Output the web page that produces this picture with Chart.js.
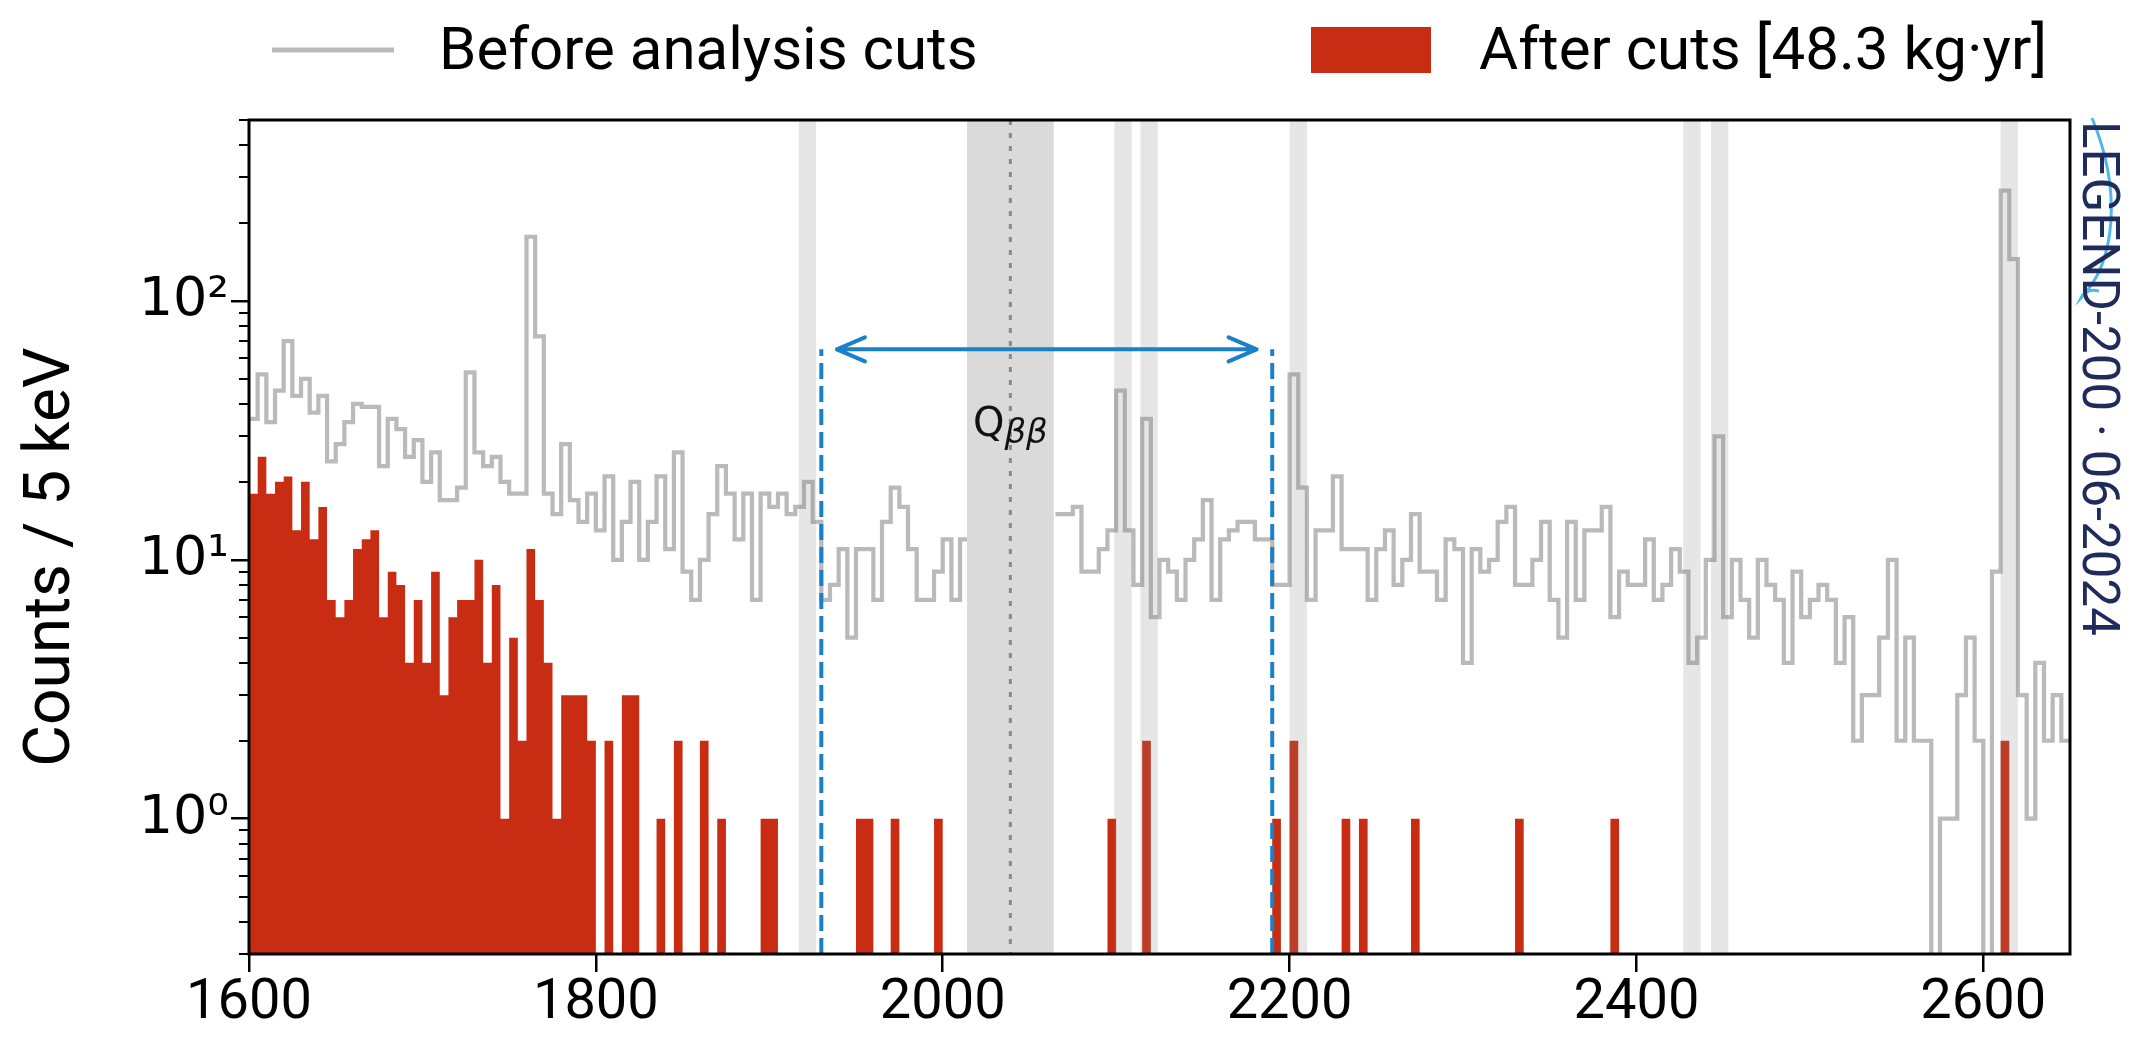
<!DOCTYPE html>
<html>
<head>
<meta charset="utf-8">
<title>Energy spectrum 1600–2650 keV</title>
<script src="https://cdn.jsdelivr.net/npm/chart.js@4.4.1/dist/chart.umd.min.js"></script>
<style>
  html, body { margin: 0; padding: 0; background: #ffffff; }
  canvas { display: block; }
</style>
</head>
<body>
<canvas id="spectrum" width="2131" height="1051"></canvas>
<script>
// ---- Binning: 5 keV bins starting at 1600 keV (210 bins up to 2650 keV) ----
const binStart = 1600;
const binWidth = 5;

// Counts per 5 keV bin before analysis cuts (null = blinded window, not shown)
const beforeCuts = [
  35, 52, 34, 45, 70, 43, 50, 37, 43, 24,
  28, 34, 40, 39, 39, 23, 35, 32, 25, 29,
  20, 26, 17, 17, 19, 53, 26, 23, 25, 20,
  18, 18, 177, 73, 18, 15, 28, 17, 14, 18,
  13, 21, 10, 14, 20, 10, 14, 21, 11, 26,
  9, 7, 10, 15, 23, 18, 12, 18, 7, 18,
  16, 18, 15, 16, 20, 14, 7, 8, 11, 5,
  11, 11, 7, 14, 19, 16, 11, 7, 7, 9,
  12, 7, 12, null, null, null, null, null, null, null,
  null, null, null, 15, 15, 16, 9, 9, 11, 13,
  45, 13, 8, 35, 6, 10, 9, 7, 10, 12,
  17, 7, 12, 13, 14, 14, 12, 12, 8, 8,
  52, 19, 7, 13, 13, 21, 11, 11, 11, 7,
  11, 13, 8, 10, 15, 9, 9, 7, 12, 11,
  4, 11, 9, 10, 14, 16, 8, 8, 10, 14,
  7, 5, 14, 7, 13, 13, 16, 6, 9, 8,
  8, 12, 7, 8, 11, 9, 4, 5, 10, 30,
  6, 10, 7, 5, 10, 8, 7, 4, 9, 6,
  7, 8, 7, 4, 6, 2, 3, 3, 5, 10,
  2, 5, 2, 2, 0, 1, 1, 3, 5, 2,
  0, 9, 267, 145, 3, 1, 4, 2, 3, 2
];

// Counts per 5 keV bin after analysis cuts
const afterCuts = [
  18, 25, 18, 20, 21, 13, 20, 12, 16, 7,
  6, 7, 11, 12, 13, 6, 9, 8, 4, 7,
  4, 9, 3, 6, 7, 7, 10, 4, 8, 1,
  5, 2, 11, 7, 4, 1, 3, 3, 3, 2,
  0, 2, 0, 3, 3, 0, 0, 1, 0, 2,
  0, 0, 2, 0, 1, 0, 0, 0, 0, 1,
  1, 0, 0, 0, 0, 0, 0, 0, 0, 0,
  1, 1, 0, 0, 1, 0, 0, 0, 0, 1,
  0, 0, 0, 0, 0, 0, 0, 0, 0, 0,
  0, 0, 0, 0, 0, 0, 0, 0, 0, 1,
  0, 0, 0, 2, 0, 0, 0, 0, 0, 0,
  0, 0, 0, 0, 0, 0, 0, 0, 1, 0,
  2, 0, 0, 0, 0, 0, 1, 0, 1, 0,
  0, 0, 0, 0, 1, 0, 0, 0, 0, 0,
  0, 0, 0, 0, 0, 0, 1, 0, 0, 0,
  0, 0, 0, 0, 0, 0, 0, 1, 0, 0,
  0, 0, 0, 0, 0, 0, 0, 0, 0, 0,
  0, 0, 0, 0, 0, 0, 0, 0, 0, 0,
  0, 0, 0, 0, 0, 0, 0, 0, 0, 0,
  0, 0, 0, 0, 0, 0, 0, 0, 0, 0,
  0, 0, 2, 0, 0, 0, 0, 0, 0, 0
];

// Axis ticks
const xTickValues = [1600, 1800, 2000, 2200, 2400, 2600];
const yMajorTicks = [1, 10, 100];
const yMajorLabels = ['10⁰', '10¹', '10²'];
const yMinorTicks = [0.3, 0.4, 0.5, 0.6, 0.7, 0.8, 0.9,
                     2, 3, 4, 5, 6, 7, 8, 9,
                     20, 30, 40, 50, 60, 70, 80, 90,
                     200, 300, 400, 500];
const yRange = [0.3, 500];
const xRange = [1600, 2650];
const yTitle = 'Counts / 5 keV';

// Known gamma lines excluded from the analysis window (keV, +/- half width)
const gammaLines = [1922, 2104, 2119, 2205, 2432, 2448, 2615];
const gammaHalfWidth = 5;

// Q-value and blinded window
const qbb = 2039;
const blindHalfWidth = 25;

// Analysis window edges and arrow tips (keV), drawn up to this count level
const roiEdges = [1930, 2190];
const roiArrowTips = [1939, 2181];
const roiHeight = 65;
const qbbLabelLevel = 30;

const legendEntries = ['Before analysis cuts', 'After cuts [48.3 kg·yr]'];
const sideNoteText = 'LEGEND-200 · 06-2024';

// Colours
const GRAY = '#bababa';
const RED = '#c82d13';
const BLUE = '#1a80c8';

// Turn bin counts into step-outline points: two points per bin.
// Empty bins are pushed far below the visible range so the outline drops to the axis.
function stepPoints(counts) {
  const pts = [];
  counts.forEach((c, i) => {
    const lo = binStart + i * binWidth;
    const hi = lo + binWidth;
    if (c === null) { pts.push({ x: lo, y: null }); return; }
    const y = c > 0 ? c : 1e-3;
    pts.push({ x: lo, y: y }, { x: hi, y: y });
  });
  return pts;
}

// Bands, reference lines, annotations, frame, legend, axis title and side note
const annotations = {
  id: 'annotations',
  afterDatasetsDraw(chart) {
    const { ctx, chartArea: a, scales: { x, y } } = chart;
    const h = a.bottom - a.top;
    ctx.save();
    ctx.beginPath();
    ctx.rect(a.left, a.top, a.right - a.left, h);
    ctx.clip();

    // gamma-line exclusion bands (translucent, over the histograms)
    ctx.fillStyle = 'rgba(128,128,128,0.2)';
    gammaLines.forEach(c => {
      const x0 = x.getPixelForValue(c - gammaHalfWidth);
      const x1 = x.getPixelForValue(c + gammaHalfWidth);
      ctx.fillRect(x0, a.top, x1 - x0, h);
    });

    // blinded window around Q_bb
    const b0 = x.getPixelForValue(qbb - blindHalfWidth);
    const b1 = x.getPixelForValue(qbb + blindHalfWidth);
    ctx.fillStyle = '#dadada';
    ctx.fillRect(b0, a.top, b1 - b0, h);

    // dotted Q_bb line
    const xq = x.getPixelForValue(qbb);
    ctx.strokeStyle = '#888888';
    ctx.lineWidth = 3;
    ctx.setLineDash([5, 8]);
    ctx.beginPath();
    ctx.moveTo(xq, a.top);
    ctx.lineTo(xq, a.bottom);
    ctx.stroke();
    ctx.setLineDash([]);

    // Q_bb label
    const yq = y.getPixelForValue(qbbLabelLevel);
    ctx.fillStyle = '#111111';
    ctx.textBaseline = 'alphabetic';
    ctx.font = '40px "DejaVu Sans"';
    const wQ = ctx.measureText('Q').width;
    ctx.font = 'italic 34px "DejaVu Sans"';
    const wB = ctx.measureText('ββ').width;
    const x0 = xq - (wQ + wB) / 2;
    ctx.font = '40px "DejaVu Sans"';
    ctx.fillText('Q', x0, yq);
    ctx.font = 'italic 34px "DejaVu Sans"';
    ctx.fillText('ββ', x0 + wQ, yq + 7);

    // analysis window: dashed edges and double arrow
    const yTop = y.getPixelForValue(roiHeight);
    ctx.strokeStyle = BLUE;
    ctx.lineWidth = 4;
    ctx.setLineDash([16, 7]);
    roiEdges.forEach(e => {
      const xe = x.getPixelForValue(e);
      ctx.beginPath();
      ctx.moveTo(xe, a.bottom);
      ctx.lineTo(xe, yTop);
      ctx.stroke();
    });
    ctx.setLineDash([]);
    const xa = x.getPixelForValue(roiArrowTips[0]);
    const xb = x.getPixelForValue(roiArrowTips[1]);
    ctx.lineWidth = 4;
    ctx.lineCap = 'round';
    ctx.lineJoin = 'round';
    ctx.beginPath();
    ctx.moveTo(xa, yTop);
    ctx.lineTo(xb, yTop);
    ctx.moveTo(xa + 28, yTop - 12);
    ctx.lineTo(xa, yTop);
    ctx.lineTo(xa + 28, yTop + 12);
    ctx.moveTo(xb - 28, yTop - 12);
    ctx.lineTo(xb, yTop);
    ctx.lineTo(xb - 28, yTop + 12);
    ctx.stroke();
    ctx.restore();

    // frame around the plotting area
    ctx.save();
    ctx.strokeStyle = '#000000';
    ctx.lineWidth = 3;
    ctx.strokeRect(a.left, a.top, a.right - a.left, h);
    ctx.restore();
  },
  afterDraw(chart) {
    const { ctx, chartArea: a } = chart;
    ctx.save();
    // legend above the plot
    ctx.strokeStyle = GRAY;
    ctx.lineWidth = 5;
    ctx.beginPath();
    ctx.moveTo(272, 50);
    ctx.lineTo(394, 50);
    ctx.stroke();
    ctx.fillStyle = RED;
    ctx.fillRect(1311, 27, 120, 46);
    ctx.fillStyle = '#000000';
    ctx.font = '60px Roboto';
    ctx.textBaseline = 'alphabetic';
    ctx.textAlign = 'left';
    ctx.fillText(legendEntries[0], 439, 69);
    ctx.fillText(legendEntries[1], 1479, 69);

    // y-axis title, reading upwards
    ctx.save();
    ctx.translate(53, (a.top + a.bottom) / 2 + 20);
    ctx.rotate(-Math.PI / 2);
    ctx.font = '64px Roboto';
    ctx.textAlign = 'center';
    ctx.textBaseline = 'middle';
    ctx.fillStyle = '#000000';
    ctx.fillText(yTitle, 0, 0);
    ctx.restore();

    // collaboration tag on the right, reading downwards
    ctx.strokeStyle = '#4fb6ea';
    ctx.lineWidth = 3;
    ctx.beginPath();
    ctx.moveTo(2092, 118);
    ctx.bezierCurveTo(2122, 190, 2116, 262, 2081, 298);
    ctx.quadraticCurveTo(2086, 288, 2099, 291);
    ctx.stroke();
    ctx.translate(2096, 121);
    ctx.rotate(Math.PI / 2);
    ctx.fillStyle = '#1f2b5b';
    ctx.font = '51px Roboto';
    ctx.textBaseline = 'middle';
    ctx.textAlign = 'left';
    ctx.fillText(sideNoteText, 0, 0);
    ctx.restore();
  }
};

new Chart(document.getElementById('spectrum'), {
  type: 'line',
  data: {
    datasets: [
      {
        label: legendEntries[0],
        data: stepPoints(beforeCuts),
        borderColor: GRAY,
        borderWidth: 4.2,
        borderJoinStyle: 'miter',
        pointRadius: 0,
        tension: 0,
        fill: false,
        spanGaps: false,
        order: 1
      },
      {
        label: legendEntries[1],
        data: stepPoints(afterCuts),
        borderWidth: 0,
        backgroundColor: RED,
        fill: 'start',
        pointRadius: 0,
        tension: 0,
        order: 2
      }
    ]
  },
  options: {
    responsive: false,
    animation: false,
    devicePixelRatio: 1,
    events: [],
    layout: { padding: { top: 120, right: 61, left: 0, bottom: 0 } },
    plugins: { legend: { display: false }, tooltip: { enabled: false } },
    scales: {
      x: {
        type: 'linear',
        min: xRange[0],
        max: xRange[1],
        afterBuildTicks: s => { s.ticks = xTickValues.map(v => ({ value: v })); },
        afterFit: s => { s.height = 97; },
        ticks: {
          callback: v => String(v),
          font: { family: 'Roboto', size: 56, lineHeight: 1 },
          color: '#000000',
          padding: 4,
          maxRotation: 0,
          autoSkip: false
        },
        grid: { drawOnChartArea: false, tickLength: 18, color: '#000000', lineWidth: 2.5 },
        border: { display: false }
      },
      y: {
        type: 'logarithmic',
        position: 'left',
        weight: 1,
        min: yRange[0],
        max: yRange[1],
        afterBuildTicks: s => { s.ticks = yMajorTicks.map(v => ({ value: v })); },
        afterFit: s => { s.width = 249; },
        ticks: {
          callback: v => { const i = yMajorTicks.indexOf(v); return i >= 0 ? yMajorLabels[i] : ''; },
          font: { family: 'DejaVu Sans', size: 54 },
          color: '#000000',
          padding: 2,
          autoSkip: false
        },
        grid: { drawOnChartArea: false, tickLength: 18, color: '#000000', lineWidth: 2.5 },
        border: { display: false }
      },
      yMinor: {
        type: 'logarithmic',
        position: 'left',
        weight: 0,
        min: yRange[0],
        max: yRange[1],
        afterBuildTicks: s => { s.ticks = yMinorTicks.map(v => ({ value: v })); },
        afterFit: s => { s.width = 0; },
        ticks: { display: false, autoSkip: false },
        grid: { drawOnChartArea: false, tickLength: 10, color: '#000000', lineWidth: 2 },
        border: { display: false }
      }
    }
  },
  plugins: [annotations]
});
</script>
</body>
</html>
